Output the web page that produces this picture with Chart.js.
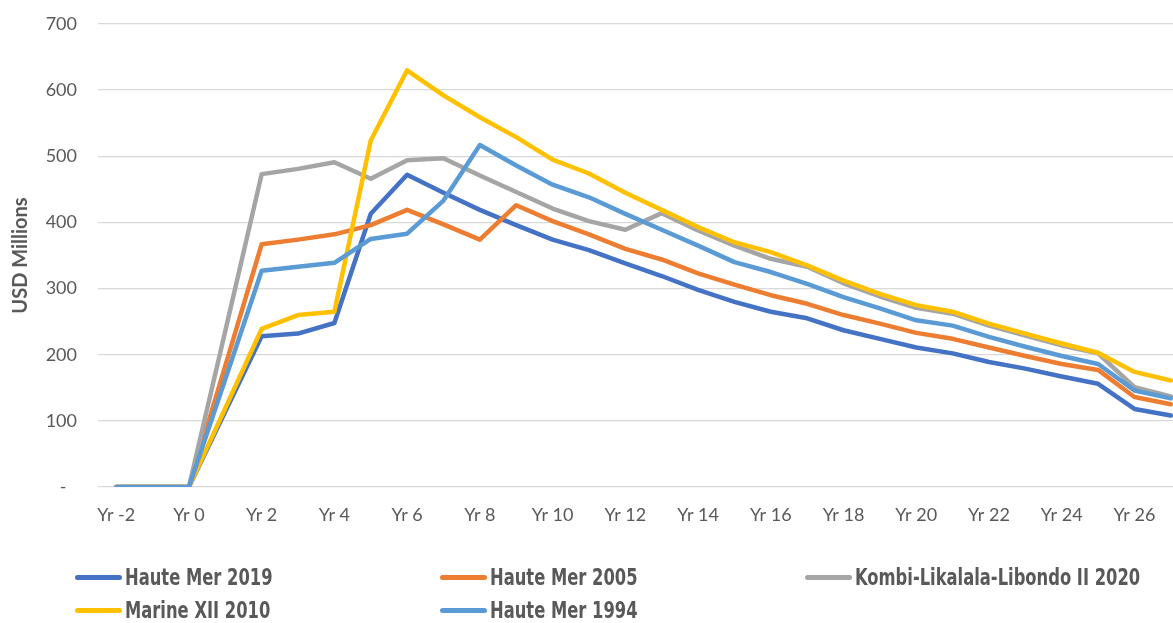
<!DOCTYPE html>
<html>
<head>
<meta charset="utf-8">
<script src="https://cdn.jsdelivr.net/npm/chart.js@4"></script>
<style>
    html, body { margin: 0; padding: 0; background: #ffffff; overflow: hidden; }
    #wrap { position: absolute; left: 0; top: 0; width: 1191px; height: 623px; }
    #legend { position: absolute; left: 0; top: 0; width: 1173px; height: 623px; pointer-events: none; }
    .item { position: absolute; display: flex; align-items: center; height: 26px; white-space: nowrap; }
    .swatch { width: 47px; height: 5px; border-radius: 3px; margin-right: 3px; flex: none; }
    .name { display: inline-block; transform: scaleX(0.79); transform-origin: left center;
            font-family: "DejaVu Sans Condensed", "DejaVu Sans", sans-serif;
            font-weight: bold; font-size: 23px; color: #595959; }
</style>
</head>
<body>
<div id="wrap"><canvas id="lineChart"></canvas></div>
<div id="legend"></div>
<script>
// Categories (years)
const years = ['Yr -2', 'Yr -1', 'Yr 0', 'Yr 1', 'Yr 2', 'Yr 3', 'Yr 4', 'Yr 5', 'Yr 6', 'Yr 7',
               'Yr 8', 'Yr 9', 'Yr 10', 'Yr 11', 'Yr 12', 'Yr 13', 'Yr 14', 'Yr 15', 'Yr 16', 'Yr 17',
               'Yr 18', 'Yr 19', 'Yr 20', 'Yr 21', 'Yr 22', 'Yr 23', 'Yr 24', 'Yr 25', 'Yr 26', 'Yr 27'];

// USD millions per year
const hauteMer2019 = [0, 0, 0, 114, 228, 232, 248, 413, 472, 445, 419, 396, 374, 358, 338, 319, 298, 280, 265, 255, 237, 224, 211, 202, 189, 179, 167, 156, 118, 108];
const hauteMer2005 = [0, 0, 0, 183, 367, 374, 382, 396, 419, 397, 374, 426, 402, 382, 360, 344, 323, 306, 290, 277, 260, 247, 233, 224, 211, 198, 186, 177, 136, 125];
const kombi2020    = [0, 0, 0, 236, 473, 481, 491, 466, 494, 497, 471, 446, 421, 402, 389, 414, 388, 365, 345, 333, 308, 288, 271, 262, 244, 229, 214, 202, 151, 137];
const marine2010   = [0, 0, 0, 119, 239, 260, 265, 524, 630, 592, 559, 529, 495, 474, 445, 419, 393, 370, 355, 335, 312, 292, 275, 265, 247, 232, 217, 203, 174, 161];
const hauteMer1994 = [0, 0, 0, 163, 327, 333, 339, 375, 383, 433, 517, 486, 457, 438, 413, 389, 365, 340, 325, 307, 287, 270, 252, 244, 227, 212, 198, 186, 146, 134];

const seriesNames = ['Haute Mer 2019', 'Haute Mer 2005', 'Kombi-Likalala-Libondo II 2020', 'Marine XII 2010', 'Haute Mer 1994'];
const seriesData = [hauteMer2019, hauteMer2005, kombi2020, marine2010, hauteMer1994];
const seriesColors = ['#4472C4', '#ED7D31', '#A5A5A5', '#FFC000', '#5B9BD5'];

const yTicks = [0, 100, 200, 300, 400, 500, 600, 700];

// Legend grid positions (Excel style columns)
const legendSpots = [[75, 564], [440, 564], [805, 564], [75, 597], [440, 597]];

const datasets = seriesNames.map((name, i) => ({
    label: name,
    data: seriesData[i],
    borderColor: seriesColors[i],
    backgroundColor: seriesColors[i],
    borderWidth: 4.5,
    pointRadius: 0,
    tension: 0,
    borderJoinStyle: 'round',
    borderCapStyle: 'round',
    order: seriesNames.length - i   // later series drawn on top
}));

const tickFont = { family: 'Lato', size: 18 };

new Chart(document.getElementById('lineChart').getContext('2d'), {
    type: 'line',
    data: { labels: years, datasets: datasets },
    options: {
        responsive: true,
        maintainAspectRatio: false,
        animation: false,
        layout: { padding: { top: 24, bottom: 86, left: 0, right: 2 } },
        plugins: {
            legend: { display: false },
            tooltip: { enabled: false }
        },
        scales: {
            x: {
                type: 'category',
                offset: true,
                grid: { display: false, drawTicks: false },
                border: { display: false },
                ticks: {
                    autoSkip: false,
                    maxRotation: 0,
                    minRotation: 0,
                    padding: 17,
                    color: '#595959',
                    font: tickFont,
                    callback: (v, i) => (i % 2 === 0 ? years[i] : '')
                },
                afterFit: (scale) => { scale.height = 50; }
            },
            y: {
                min: 0,
                max: 700,
                grid: { color: '#D9D9D9', lineWidth: 1.3, drawTicks: false },
                border: { display: false },
                afterBuildTicks: (scale) => { scale.ticks = yTicks.map(v => ({ value: v })); },
                ticks: {
                    padding: 21,
                    color: '#595959',
                    font: tickFont,
                    callback: (v) => (v === 0 ? '-\u2007' : String(v))
                },
                title: {
                    display: true,
                    text: 'USD Millions',
                    color: '#595959',
                    font: { family: 'Lato', size: 20, weight: 'bold' },
                    padding: { top: 9, bottom: 0 }
                },
                afterFit: (scale) => {
                    scale.width = 98;
                    scale.paddingTop = 0;
                    scale.paddingBottom = 0;
                }
            }
        }
    }
});

// HTML legend built from the same series arrays
const legendEl = document.getElementById('legend');
seriesNames.forEach((name, i) => {
    const item = document.createElement('div');
    item.className = 'item';
    item.style.left = legendSpots[i][0] + 'px';
    item.style.top = legendSpots[i][1] + 'px';
    const sw = document.createElement('span');
    sw.className = 'swatch';
    sw.style.background = seriesColors[i];
    const txt = document.createElement('span');
    txt.className = 'name';
    txt.textContent = name;
    item.appendChild(sw);
    item.appendChild(txt);
    legendEl.appendChild(item);
});
</script>
</body>
</html>
